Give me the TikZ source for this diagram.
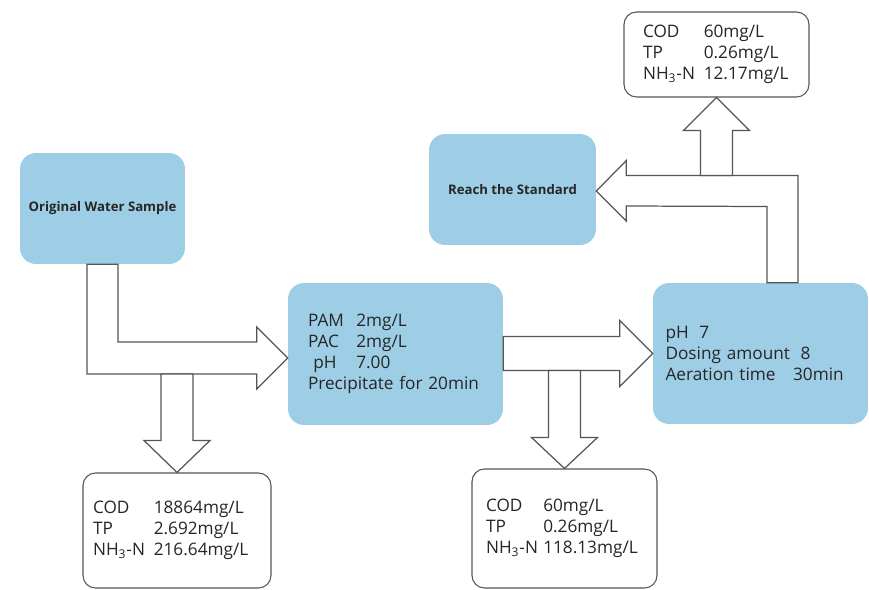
\documentclass[tikz,border=0pt]{standalone}
\usepackage{fontspec}
\setmainfont{Open Sans}
\usetikzlibrary{calc}
\definecolor{stageblue}{RGB}{158,206,230}
\definecolor{edgegray}{RGB}{85,85,85}
\tikzstyle{stage}=[fill=stageblue, rounded corners=0.32cm, inner ysep=0pt, text=black!85, font=\fontsize{9.8}{12}\selectfont]
\tikzstyle{title}=[font=\fontsize{7.5}{9}\selectfont\bfseries]
\tikzstyle{result}=[draw=edgegray, line width=0.6pt, fill=white, rounded corners=0.25cm, inner ysep=0pt, align=left, text=black!85, font=\fontsize{9.8}{12}\selectfont]
\tikzstyle{hollow}=[draw=edgegray, line width=0.7pt, fill=white, line join=miter]

\begin{document}
\begin{tikzpicture}[x=0.02cm, y=-0.02cm]
  \useasboundingbox (0,0) rectangle (869,589);
  \node[stage, title, minimum width=3.3cm, minimum height=2.22cm] (orig) at (102.5,208.5) {Original Water Sample};
  \node[stage, title, minimum width=3.34cm, minimum height=2.22cm] (std) at (512.5,189.5) {Reach the Standard};
  \node[stage, text width=3.5cm, inner xsep=0.4cm, minimum height=2.84cm, align=left] (pam) at (395.5,354) {\begin{tabular}{@{}l@{\hspace{7pt}}l@{}}
    PAM & 2mg/L\\ PAC & 2mg/L\\ \hspace{3pt}pH & 7.00\\ \multicolumn{2}{@{}l@{}}{Precipitate for 20min}\end{tabular}};
  \node[stage, text width=3.8cm, inner xsep=0.25cm, minimum height=2.82cm, align=left] (aer) at (760.5,353.5) {pH\hspace{6pt}7\\ Dosing amount\hspace{6pt}8\\ Aeration time\hspace{10pt}30min};
  \node[result, text width=3.36cm, inner xsep=0.2cm, minimum height=2.3cm] (res1) at (177,530.5) {\begin{tabular}{@{}l@{\hspace{5pt}}l@{}}
    COD & 18864mg/L\\ TP & 2.692mg/L\\ NH\textsubscript{3}-N & 216.64mg/L\end{tabular}};
  \node[result, text width=3.14cm, inner xsep=0.28cm, minimum height=2.38cm] (res2) at (564.5,528.5) {\begin{tabular}{@{}l@{\hspace{3pt}}l@{}}
    COD & 60mg/L\\ TP & 0.26mg/L\\ NH\textsubscript{3}-N & 118.13mg/L\end{tabular}};
  \node[result, text width=2.94cm, inner xsep=0.38cm, minimum height=1.7cm] (res3) at (716.5,54.5) {\begin{tabular}{@{}l@{\hspace{5pt}}l@{}}
    COD & 60mg/L\\ TP & 0.26mg/L\\ NH\textsubscript{3}-N & 12.17mg/L\end{tabular}};

  % sample -> coagulation, side branch down
  \coordinate (t1) at ($(pam.west)+(0,4)$);
  \draw[hollow] ($(orig.south)+(-15.5,0)$) coordinate (a1) -- ++(31,0) |- ($(t1)+(-31,-16)$) -- ++(0,-15) -- (t1) -- ++(-31,31) -- ++(0,-15) -- ($(a1 |- t1)+(0,16)$) -- cycle;
  \coordinate (b1) at ($(res1.north |- t1)+(0,16)$);
  \draw[hollow] ($(b1)+(-16,0)$) -- ($(res1.north)+(-16,-32)$) -- ++(-17,0) -- (res1.north) -- ++(33,-32) -- ++(-17,0) -- ($(b1)+(16,0)$) -- cycle;

  % coagulation -> aeration, side branch down
  \coordinate (t2) at (aer.west);
  \draw[hollow] ($(pam.east |- t2)+(0,-17)$) -- ($(t2)+(-33,-17)$) -- ++(0,-16) -- (t2) -- ++(-33,33) -- ++(0,-16) -- ($(pam.east |- t2)+(0,17)$) -- cycle;
  \coordinate (b2) at ($(res2.north |- t2)+(0,17)$);
  \draw[hollow] ($(b2)+(-16,0)$) -- ($(res2.north)+(-16,-31)$) -- ++(-17,0) -- (res2.north) -- ++(33,-31) -- ++(-17,0) -- ($(b2)+(16,0)$) -- cycle;

  % aeration -> standard, side branch up
  \coordinate (t3) at ($(std.east)+(0,1.5)$);
  \draw[hollow] ($(aer.north)+(6.5,0)$) coordinate (a3) -- ++(31,0) |- ($(t3)+(30,-15.5)$) -- ++(0,-15) -- (t3) -- ++(30,30) -- ++(0,-15) -- ($(a3 |- t3)+(0,15.5)$) -- cycle;
  \coordinate (b3) at ($(res3.south |- t3)+(0,-15.5)$);
  \draw[hollow] ($(b3)+(-16,0)$) -- ($(res3.south)+(-16,33)$) -- ++(-17,0) -- (res3.south) -- ++(33,33) -- ++(-17,0) -- ($(b3)+(16,0)$) -- cycle;
\end{tikzpicture}
\end{document}
